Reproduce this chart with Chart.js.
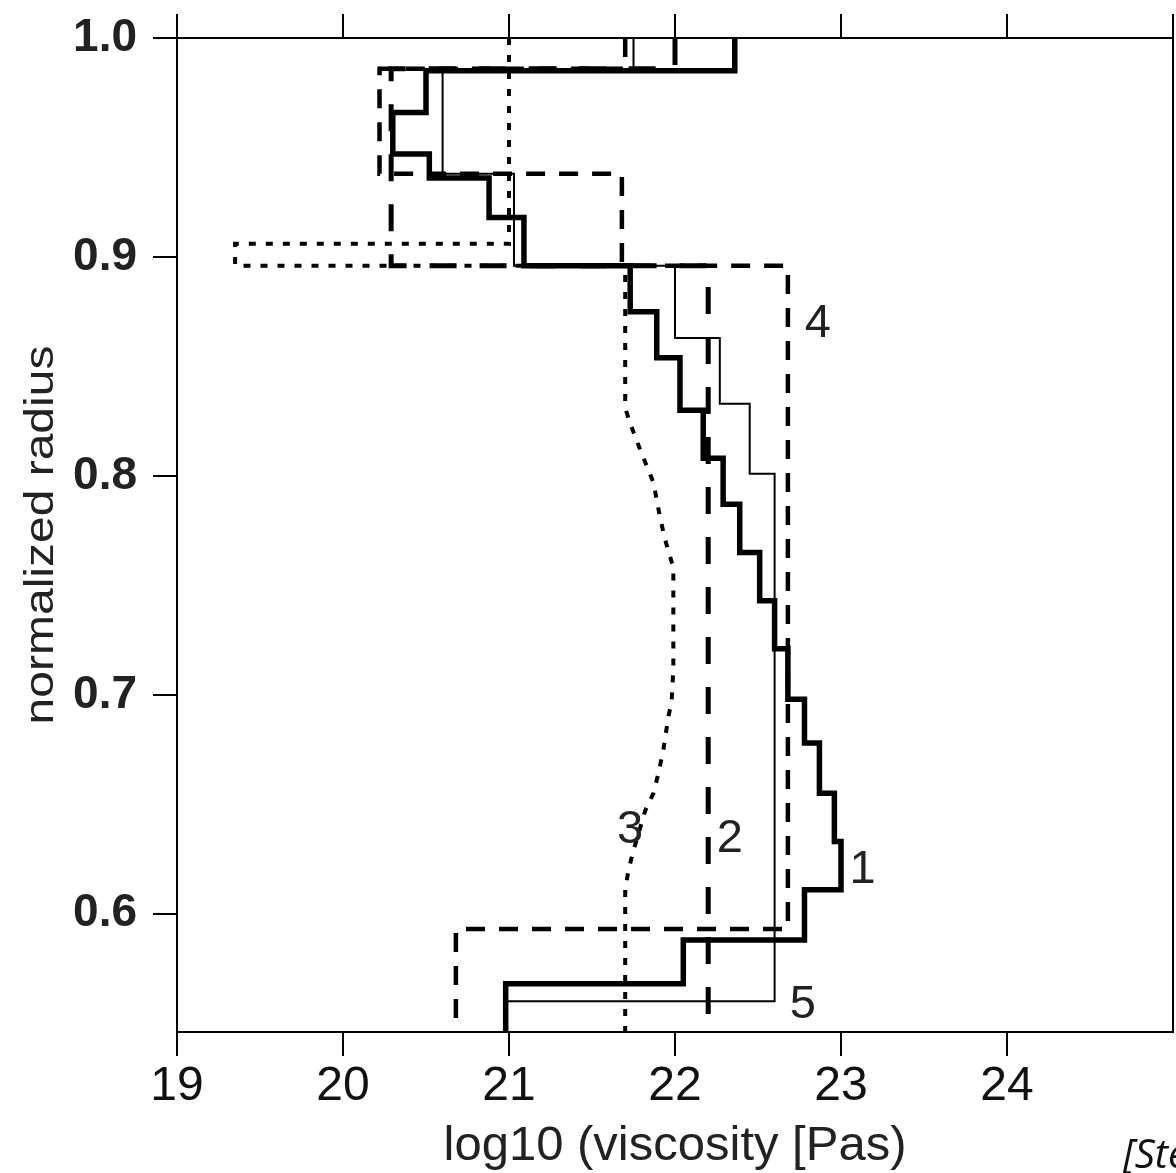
<!DOCTYPE html>
<html>
<head>
<meta charset="utf-8">
<script src="https://cdn.jsdelivr.net/npm/chart.js@4.4.1/dist/chart.umd.min.js"></script>
<style>
  html, body { margin: 0; padding: 0; background: #fff; overflow: hidden; }
  canvas { display: block; }
</style>
</head>
<body>
<canvas id="viscChart" width="1176" height="1173"></canvas>
<script>
// layer boundaries (normalized radius, top -> bottom) and log10 viscosity per layer
const bounds1 = [1.0, 0.985, 0.966, 0.947, 0.936, 0.918, 0.896, 0.875, 0.854, 0.830, 0.808, 0.787,
                 0.765, 0.743, 0.721, 0.698, 0.678, 0.655, 0.633, 0.611, 0.588, 0.568, 0.546];
const visc1 = [22.36, 20.50, 20.30, 20.52, 20.88, 21.09, 21.73, 21.89, 22.03, 22.17, 22.29,
               22.39, 22.51, 22.60, 22.68, 22.78, 22.87, 22.96, 23.00, 22.78, 22.05, 20.98];

const bounds2 = [1.0, 0.986, 0.896, 0.546];
const visc2 = [22.0, 20.29, 22.2];

const bounds4 = [1.0, 0.986, 0.938, 0.896, 0.593, 0.546];
const visc4 = [21.70, 20.22, 21.68, 22.68, 20.68];

const bounds5 = [1.0, 0.985, 0.938, 0.896, 0.863, 0.833, 0.801, 0.560, 0.546];
const visc5 = [21.75, 20.60, 21.03, 22.0, 22.27, 22.45, 22.60, 20.98];

// model 3 is partly smooth, so it is kept as a plain polyline
const visc3 = [21.00, 21.00, 19.35, 19.35, 21.70, 21.70, 21.73, 21.79, 21.87, 21.91, 21.94, 21.99,
               21.99, 21.99, 21.98, 21.96, 21.93, 21.90, 21.87, 21.82, 21.75, 21.72, 21.70, 21.70];
const rad3 = [1.0, 0.906, 0.906, 0.896, 0.896, 0.831, 0.824, 0.812, 0.797, 0.781, 0.771, 0.758,
              0.740, 0.712, 0.697, 0.690, 0.675, 0.664, 0.655, 0.647, 0.629, 0.620, 0.611, 0.546];

const xTicks = [19, 20, 21, 22, 23, 24];
const xTopTicks = [19, 20, 21, 22, 23, 24, 25];
const yTicks = [0.6, 0.7, 0.8, 0.9, 1.0];

const curveLabels = ["1", "2", "3", "4", "5"];
const labelX = [23.13, 22.33, 21.73, 22.86, 22.77];
const labelR = [0.622, 0.636, 0.640, 0.871, 0.560];

function steps(bounds, visc) {
  const pts = [];
  visc.forEach((v, i) => {
    pts.push({ x: v, y: bounds[i] });
    pts.push({ x: v, y: bounds[i + 1] });
  });
  return pts;
}

const fontFam = "'Liberation Sans', Arial, Helvetica, sans-serif";

const textPlugin = {
  id: "texts",
  afterDraw(chart) {
    const { ctx, scales } = chart;
    const sx = scales.x, sy = scales.y;
    ctx.save();
    ctx.fillStyle = "#222";
    ctx.textAlign = "center";
    ctx.textBaseline = "alphabetic";
    ctx.font = "47px " + fontFam;
    curveLabels.forEach((t, i) => {
      ctx.fillText(t, sx.getPixelForValue(labelX[i]), sy.getPixelForValue(labelR[i]) + 17);
    });

    ctx.font = "49px " + fontFam;
    ctx.fillText("log10 (viscosity [Pas)", (sx.left + sx.right) / 2, 1160);

    ctx.save();
    ctx.translate(53, 535);
    ctx.rotate(-Math.PI / 2);
    ctx.scale(1.2, 1);
    ctx.font = "40px " + fontFam;
    ctx.fillText("normalized radius", 0, 0);
    ctx.restore();

    ctx.textAlign = "left";
    ctx.fillStyle = "#111";
    ctx.font = "italic 40px 'Open Sans', 'Noto Sans', sans-serif";
    ctx.fillText("[Steinberger and Calderwood, 2006]", 1123, 1168);
    ctx.restore();
  }
};

const line = (data, width, dash) => ({
  data: data,
  showLine: true,
  borderColor: "#000",
  backgroundColor: "#000",
  borderWidth: width,
  borderDash: dash,
  borderCapStyle: "butt",
  borderJoinStyle: "miter",
  pointRadius: 0,
  tension: 0,
  fill: false,
});

const gridOpts = { drawOnChartArea: false, drawTicks: true, tickLength: 24, color: "#000", lineWidth: 2 };
const borderOpts = { display: true, color: "#000", width: 2 };

new Chart(document.getElementById("viscChart"), {
  type: "scatter",
  data: {
    datasets: [
      line(visc3.map((v, i) => ({ x: v, y: rad3[i] })), 4, [7, 10]),
      line(steps(bounds4, visc4), 4.5, [19, 14]),
      line(steps(bounds2, visc2), 5, [27, 23]),
      line(steps(bounds5, visc5), 2, []),
      line(steps(bounds1, visc1), 5.5, []),
    ],
  },
  options: {
    responsive: false,
    animation: false,
    devicePixelRatio: 1,
    layout: { padding: 0 },
    plugins: { legend: { display: false }, tooltip: { enabled: false } },
    scales: {
      x: {
        type: "linear", position: "bottom", min: 19, max: 25,
        afterBuildTicks: s => { s.ticks = xTicks.map(v => ({ value: v })); },
        afterFit: s => { s.height = 141; s.paddingLeft = 0; s.paddingRight = 0; },
        grid: gridOpts, border: borderOpts,
        ticks: { color: "#111", font: { family: fontFam, size: 48 }, padding: 2, maxRotation: 0, autoSkip: false },
      },
      xTop: {
        type: "linear", position: "top", min: 19, max: 25,
        afterBuildTicks: s => { s.ticks = xTopTicks.map(v => ({ value: v })); },
        afterFit: s => { s.height = 38; s.paddingLeft = 0; s.paddingRight = 0; },
        grid: gridOpts, border: borderOpts,
        ticks: { display: false },
      },
      y: {
        type: "linear", position: "left", min: 0.546, max: 1.0,
        afterBuildTicks: s => { s.ticks = yTicks.map(v => ({ value: v })); },
        afterFit: s => { s.width = 177; s.paddingTop = 0; s.paddingBottom = 0; },
        grid: gridOpts, border: borderOpts,
        ticks: { color: "#222", font: { family: fontFam, size: 46, weight: "bold" }, padding: 16,
                 callback: v => v.toFixed(1) },
      },
      yRight: {
        type: "linear", position: "right", min: 0.546, max: 1.0,
        afterFit: s => { s.width = 3; s.paddingTop = 0; s.paddingBottom = 0; },
        grid: { display: false }, border: borderOpts,
        ticks: { display: false },
      },
    },
  },
  plugins: [textPlugin],
});
</script>
</body>
</html>
